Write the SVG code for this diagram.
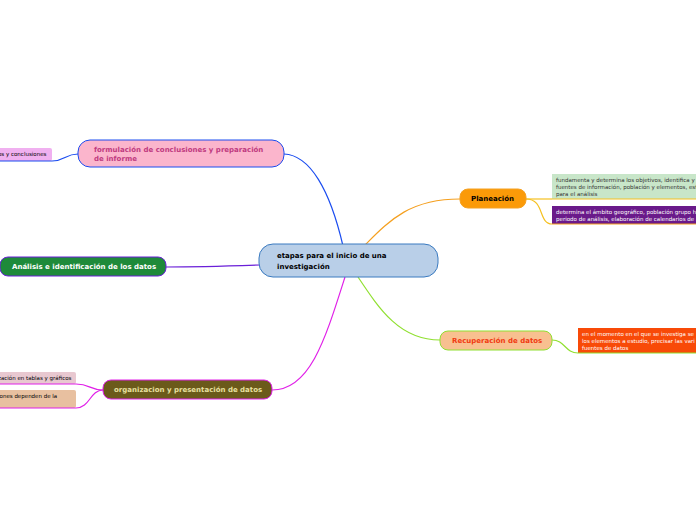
<svg xmlns="http://www.w3.org/2000/svg" width="696" height="520" viewBox="0 0 696 520">
<style>
text{font-family:"DejaVu Sans",Verdana,sans-serif}
.b{font-weight:bold;font-size:7px}
.s{font-size:5.5px}
.c{fill:none;stroke-width:1.2}
</style>
<rect width="696" height="520" fill="#fff"/>
<g id="connectors">
<path class="c" stroke="#1a4cf0" d="M343 246 C330 190 310 155 284 154"/>
<path class="c" stroke="#1a4cf0" stroke-width="0.8" d="M78 154 C65 154 65 161 52 161"/>
<path class="c" stroke="#6a1fd8" d="M260 265 C230 266 200 267 166 267"/>
<path class="c" stroke="#e020e8" d="M345 277 C325 340 310 390 272 390"/>
<path class="c" stroke="#e020e8" d="M103 390 C90 390 90 384 76 384"/>
<path class="c" stroke="#e020e8" d="M103 390 C90 390 90 408 76 408"/>
<path class="c" stroke="#f5a020" d="M365 245 C390 220 410 199 460 199"/>
<path class="c" stroke="#f5c020" stroke-width="0.8" d="M526 199 C540 199 540 199 552 199"/>
<path class="c" stroke="#f5c020" stroke-width="0.8" d="M526 199 C545 199 538 224 552 224"/>
<path class="c" stroke="#90e030" d="M358 277 C380 310 400 340 440 340"/>
<path class="c" stroke="#90e030" stroke-width="0.8" d="M552 340 C565 340 565 353 578 353"/>
</g>
<g id="center">
<rect x="259" y="244" width="179" height="33" rx="14" fill="#b9cfe8" stroke="#3a7ac0"/>
<text class="b" x="277" y="258" font-size="9">etapas para el inicio de una</text>
<text class="b" x="277" y="269" font-size="9">investigación</text>
</g>
<g id="formulacion">
<rect x="78" y="140" width="206" height="27" rx="12" fill="#fbb5cc" stroke="#1a4cf0"/>
<text class="b" x="94" y="152" fill="#c03a80">formulación de conclusiones y preparación</text>
<text class="b" x="94" y="161" fill="#c03a80">de informe</text>
</g>
<g id="conclusiones">
<rect x="-5" y="148" width="57" height="13" rx="2" fill="#f0b0f0"/>
<line x1="-5" y1="161" x2="52" y2="161" stroke="#1a4cf0"/>
<text class="s" x="-2" y="156">os y conclusiones</text>
</g>
<g id="analisis">
<rect x="0" y="257" width="166" height="19" rx="8" fill="#1e8a3a" stroke="#6a1fd8"/>
<text class="b" x="12" y="269" fill="#fff">Análisis e identificación de los datos</text>
</g>
<g id="organizacion">
<rect x="103" y="380" width="169" height="19" rx="8" fill="#6b5a1a" stroke="#e020e8"/>
<text class="b" x="114" y="392" fill="#e8e0a0">organizacion y presentación de datos</text>
</g>
<g id="tablas">
<rect x="-5" y="372" width="81" height="12" rx="2" fill="#e8c8d0"/>
<line x1="-5" y1="384" x2="76" y2="384" stroke="#e020e8"/>
<text class="s" x="-2" y="380">zación en tablas y gráficos</text>
</g>
<g id="dependen">
<rect x="-5" y="390" width="81" height="18" rx="2" fill="#e8c0a0"/>
<line x1="-5" y1="408" x2="76" y2="408" stroke="#e020e8"/>
<text class="s" x="-2" y="398">iones dependen de la</text>
</g>
<g id="planeacion">
<rect x="460" y="189" width="66" height="19" rx="8" fill="#fb9a08" stroke="#f5a020"/>
<text class="b" x="471" y="201">Planeación</text>
</g>
<g id="fundamenta">
<rect x="552" y="174" width="150" height="25" fill="#c8e6c9"/>
<line x1="552" y1="199" x2="702" y2="199" stroke="#f5c020"/>
<text class="s" x="556" y="182" fill="#333">fundamenta y determina los objetivos, identifica y</text>
<text class="s" x="556" y="189" fill="#333">fuentes de información, población y elementos, est</text>
<text class="s" x="556" y="196" fill="#333">para el análisis</text>
</g>
<g id="determina">
<rect x="552" y="206" width="150" height="18" fill="#6a1a8a"/>
<line x1="552" y1="224" x2="702" y2="224" stroke="#f5a020"/>
<text class="s" x="556" y="214" fill="#fff">determina el ámbito geográfico, población grupo h</text>
<text class="s" x="556" y="221" fill="#fff">periodo de análisis, elaboración de calendarios de a</text>
</g>
<g id="recuperacion">
<rect x="440" y="331" width="112" height="19" rx="8" fill="#f8c090" stroke="#90e030"/>
<text class="b" x="452" y="343" fill="#f03a10">Recuperación de datos</text>
</g>
<g id="momento">
<rect x="578" y="328" width="124" height="25" fill="#f84a08"/>
<line x1="578" y1="353" x2="702" y2="353" stroke="#90e030"/>
<text class="s" x="582" y="336" fill="#fff">en el momento en el que se investiga se</text>
<text class="s" x="582" y="343" fill="#fff">los elementos a estudio, precisar las vari</text>
<text class="s" x="582" y="350" fill="#fff">fuentes de datos</text>
</g>
</svg>
